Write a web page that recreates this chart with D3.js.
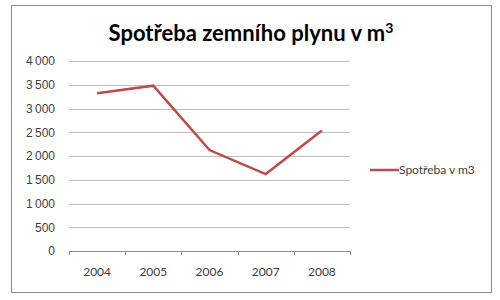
<!DOCTYPE html>
<head>
  <meta charset="utf-8">
  <script src="https://d3js.org/d3.v7.min.js"></script>
  <style>
    body { margin: 0; background: #fff; }
    svg { display: block; font-family: 'Lato', 'Open Sans', sans-serif; }
    .grid line { stroke: #c0c0c0; stroke-width: 1; shape-rendering: crispEdges; }
    .grid path { stroke-width: 0; }
    .axis path, .axis line { stroke: #8c8c8c; shape-rendering: crispEdges; }
    .axis text { fill: #404040; font-size: 12px; }
  </style>
</head>
<body>
<svg width="500" height="300"></svg>
<script>
var years = ["2004", "2005", "2006", "2007", "2008"];
var spotreba = [3320, 3480, 2125, 1620, 2535];
var yTicks = [0, 500, 1000, 1500, 2000, 2500, 3000, 3500, 4000];
var seriesName = "Spotřeba v m3";

var svg = d3.select("svg");
var margin = {top: 61, left: 69, right: 150, bottom: 49};
var width = 500 - margin.left - margin.right;
var height = 300 - margin.top - margin.bottom;

// chart frame
svg.append("rect")
    .attr("x", 11.5).attr("y", 5.5)
    .attr("width", 480).attr("height", 287)
    .attr("fill", "#fff")
    .attr("stroke", "#8c8c8c");

var title = svg.append("text")
    .attr("x", 251).attr("y", 41)
    .attr("text-anchor", "middle")
    .style("font-size", "22px")
    .style("font-weight", "bold")
    .attr("fill", "#000");
title.append("tspan").text("Spotřeba zemního plynu v m");
title.append("tspan").attr("dy", "-8").style("font-size", "14px").text("3");

var g = svg.append("g")
    .attr("transform", "translate(" + margin.left + "," + margin.top + ")");

var x = d3.scaleBand().domain(years).range([0, width]);
var y = d3.scaleLinear().domain([0, 4000]).range([height, 0]);

g.append("g")
    .attr("class", "grid")
    .call(d3.axisLeft(y).tickValues(yTicks).tickSize(-width).tickFormat(""));

var fmt = function(d) { return d3.format(",")(d).replace(",", "\u2009"); };

g.append("g")
    .attr("class", "axis")
    .call(d3.axisLeft(y).tickValues(yTicks).tickSize(0).tickPadding(14).tickFormat(fmt))
    .call(function(a) { a.select(".domain").remove(); });

// x axis with ticks between categories
var xAxis = g.append("g")
    .attr("class", "axis")
    .attr("transform", "translate(0," + height + ")");
xAxis.append("line").attr("x1", 0).attr("x2", width).attr("stroke", "#8c8c8c");
xAxis.selectAll(".tk")
    .data(d3.range(years.length + 1))
    .enter().append("line")
    .attr("x1", function(i) { return Math.round(i * x.step()) + 0.5; })
    .attr("x2", function(i) { return Math.round(i * x.step()) + 0.5; })
    .attr("y1", 0).attr("y2", 4)
    .attr("stroke", "#8c8c8c");
xAxis.selectAll(".lbl")
    .data(years)
    .enter().append("text")
    .attr("x", function(d) { return x(d) + x.bandwidth() / 2; })
    .attr("y", 25)
    .attr("text-anchor", "middle")
    .text(function(d) { return d; });

var line = d3.line()
    .x(function(d, i) { return x(years[i]) + x.bandwidth() / 2; })
    .y(function(d) { return y(d); });

g.append("path")
    .datum(spotreba)
    .attr("fill", "none")
    .attr("stroke", "#be4b48")
    .attr("stroke-width", 2.5)
    .attr("d", line);

// legend
var lg = svg.append("g").attr("transform", "translate(370,170)");
lg.append("line").attr("x1", 0).attr("x2", 29).attr("stroke", "#be4b48").attr("stroke-width", 2.5);
lg.append("text").attr("x", 29).attr("y", 4)
    .style("font-size", "12px").attr("fill", "#404040")
    .text(seriesName);
</script>
</body>
